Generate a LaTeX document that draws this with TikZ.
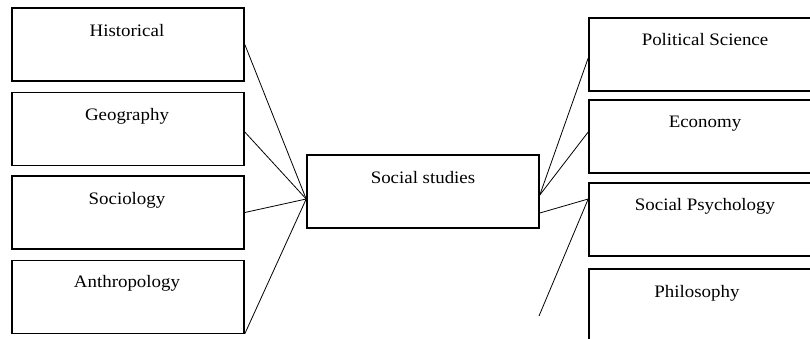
\documentclass[tikz,border=0pt]{standalone}
\usepackage{fontspec}
\setmainfont{Liberation Serif}[FakeStretch=1.08]
\usetikzlibrary{calc}
\tikzset{
  box/.style={draw, line width=1.6pt, rectangle, minimum width=232pt, minimum height=73pt, inner sep=0pt},
  lbl/.style={anchor=base, inner sep=0pt, font=\fontsize{17.5}{20}\selectfont},
  link/.style={line width=0.8pt}
}
\begin{document}
\begin{tikzpicture}[x=1pt,y=-1pt]
\useasboundingbox (0,0) rectangle (810,339);
\clip (0,0) rectangle (810,339);
% left boxes
\node[box] (hist) at (128,44.5) {};
\node[box] (geo) at (128,129) {};
\node[box] (soc) at (128,212.5) {};
\node[box] (anth) at (128,297) {};
\node[lbl] (histT) at (127,37) {Historical};
\node[lbl] (geoT) at (127,121) {Geography};
\node[lbl] (socT) at (127,204) {Sociology};
\node[lbl] (anthT) at (127,287) {Anthropology};
% center
\node[box] (ss) at (423,191.5) {};
\node[lbl] (ssT) at (423,183) {Social studies};
% right boxes
\node[box] (pol) at (705,54.5) {};
\node[box] (eco) at (705,136.5) {};
\node[box] (psy) at (705,219.5) {};
\node[box] (phi) at (705,305.5) {};
\node[lbl] (polT) at (705,46) {Political Science};
\node[lbl] (ecoT) at (705,128) {Economy};
\node[lbl] (psyT) at (705,210) {Social Psychology};
\node[lbl] (phiT) at (697,297) {Philosophy};
% connection points
\coordinate (hubL) at ($(ss.west)+(0,7.5)$);
\coordinate (hubR) at ($(ss.east)+(0,3.5)$);
\coordinate (ssR2) at ($(ss.east)+(0,21.5)$);
\coordinate (psyIn) at ($(psy.west)+(0,-20.5)$);
\coordinate (free) at (539,316);
% left connectors
\draw[link] (hist.east) -- (hubL);
\draw[link] ($(geo.east)+(0,3)$) -- (hubL);
\draw[link] (soc.east) -- (hubL);
\draw[link] ($(anth.south east)+(0,-0.5)$) -- (hubL);
% right connectors
\draw[link] (hubR) -- ($(pol.west)+(0,3.5)$);
\draw[link] (hubR) -- ($(eco.west)+(0,-4.5)$);
\draw[link] (ssR2) -- (psyIn);
\draw[link] (psyIn) -- (free);
\end{tikzpicture}
\end{document}
